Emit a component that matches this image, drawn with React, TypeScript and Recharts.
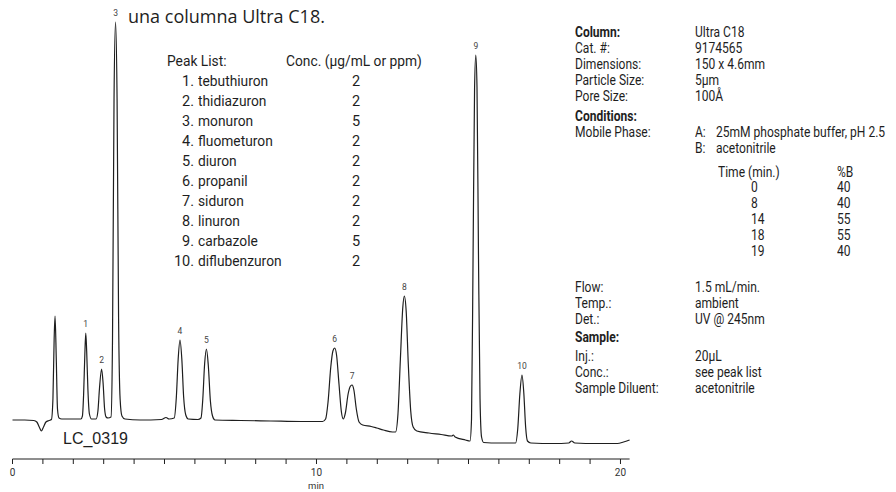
import { LineChart, Line, XAxis, YAxis, LabelList } from "recharts";

// retention time (min) and detector signal (arbitrary units)
const times = [
  0, 0.4, 0.7, 0.8, 0.88, 0.95, 1.02, 1.1, 1.2, 1.28, 1.33, 1.37, 1.4, 1.44, 1.48, 1.53, 1.62,
  2.0, 2.25, 2.3, 2.34, 2.38, 2.41, 2.44, 2.48, 2.53, 2.6, 2.75, 2.81, 2.86, 2.93, 2.98, 3.03,
  3.08, 3.14, 3.24, 3.29, 3.34, 3.39, 3.44, 3.49, 3.54, 3.6, 3.7, 4.2, 4.9, 5.05, 5.15, 5.32,
  5.39, 5.45, 5.51, 5.57, 5.63, 5.7, 5.78, 6.1, 6.2, 6.26, 6.32, 6.38, 6.44, 6.51, 6.58, 6.66,
  7.5, 8.5, 9.5, 10.2, 10.3, 10.38, 10.47, 10.54, 10.6, 10.66, 10.74, 10.82, 10.88, 10.95, 11.04,
  11.12, 11.17, 11.23, 11.31, 11.4, 11.52, 11.8, 11.98, 12.2, 12.5, 12.6, 12.68, 12.76, 12.84,
  12.89, 12.95, 13.02, 13.1, 13.18, 13.3, 13.7, 14.1, 14.45, 14.5, 14.56, 14.9, 15.05, 15.1,
  15.15, 15.2, 15.24, 15.28, 15.33, 15.38, 15.43, 15.5, 16.0, 16.55, 16.62, 16.69, 16.76, 16.82,
  16.88, 16.94, 17.05, 17.8, 18.3, 18.39, 18.5, 19.2, 19.9, 20.1, 20.3,
];
const signal = [
  39, 39, 38.5, 37, 32, 28, 32, 37, 38.5, 39.5, 60, 120, 143, 100, 50, 41, 40,
  40, 40, 43, 65, 105, 126, 108, 70, 45, 40, 40, 48, 70, 90, 76, 50,
  42, 41, 42, 120, 360, 437, 360, 140, 60, 43, 40, 39, 39.5, 41.5, 40, 41,
  62, 100, 119, 100, 62, 44, 40, 39.5, 41, 60, 95, 110, 94, 58, 43, 39,
  38.5, 38, 37.5, 37.5, 40, 57, 92, 108, 111, 104, 75, 47, 40, 46, 65,
  73, 74, 69, 50, 37, 34, 32.5, 31, 29, 27, 27, 45, 100, 152,
  163, 148, 95, 48, 32, 28, 26, 24.5, 23, 24, 22, 19, 18, 40,
  200, 370, 404, 372, 200, 60, 22, 16.5, 16, 16, 30, 65, 84, 66,
  32, 18, 16, 15.5, 16, 18, 16, 15.5, 15.5, 17, 19,
];

const peakNumbers = ["1", "2", "3", "4", "5", "6", "7", "8", "9", "10"];
const peakApexTimes = [2.41, 2.93, 3.39, 5.51, 6.38, 10.6, 11.17, 12.89, 15.24, 16.76];

const xTicks = [0, 1, 2, 3, 4, 5, 6, 7, 8, 9, 10, 11, 12, 13, 14, 15, 16, 17, 18, 19, 20];

const peakIds = ["1.", "2.", "3.", "4.", "5.", "6.", "7.", "8.", "9.", "10."];
const peakNames = [
  "tebuthiuron", "thidiazuron", "monuron", "fluometuron", "diuron",
  "propanil", "siduron", "linuron", "carbazole", "diflubenzuron",
];
const peakConc = ["2", "2", "5", "2", "2", "2", "2", "2", "5", "2"];

const columnLabels = ["Column:", "Cat. #:", "Dimensions:", "Particle Size:", "Pore Size:"];
const columnValues = ["Ultra C18", "9174565", "150 x 4.6mm", "5µm", "100Å"];
const gradientTimes = ["0", "8", "14", "18", "19"];
const gradientB = ["40", "40", "55", "55", "40"];
const runLabels = ["Flow:", "Temp.:", "Det.:"];
const runValues = ["1.5 mL/min.", "ambient", "UV @ 245nm"];
const sampleLabels = ["Inj.:", "Conc.:", "Sample Diluent:"];
const sampleValues = ["20µL", "see peak list", "acetonitrile"];

const rows = times.map((t, i) => {
  const k = peakApexTimes.indexOf(t);
  return { t, signal: signal[i], peak: k >= 0 ? peakNumbers[k] : undefined };
});

const SANS = "Roboto, sans-serif";
const INK = "#1e1e1e";

function PeakLabel(props: any) {
  const { x, y, value } = props;
  if (!value) return null;
  return (
    <text x={x} y={y - 9} textAnchor="middle" dominantBaseline="central" fontSize={8.5} fill="#444" fontFamily={SANS}>
      {value}
    </text>
  );
}

// one line of text in the side panel, squeezed to look like a condensed face
function Txt(props: { x: number; y: number; children: any; bold?: boolean; size?: number; font?: string; squeeze?: number }) {
  const k = props.squeeze ?? 0.86;
  return (
    <div
      style={{
        position: "absolute",
        left: props.x,
        top: props.y - 9,
        height: 18,
        lineHeight: "18px",
        whiteSpace: "nowrap",
        fontSize: props.size ?? 14,
        fontWeight: props.bold ? 700 : 400,
        fontFamily: props.font ?? SANS,
        color: INK,
        transform: `scaleX(${k})`,
        transformOrigin: "left center",
      }}
    >
      {props.children}
    </div>
  );
}

export default function App() {
  return (
    <div style={{ position: "absolute", left: 0, top: 0, width: 896, height: 492, background: "#fff", overflow: "hidden" }}>
      <LineChart width={896} height={492} data={rows} margin={{ top: 19, right: 266.4, bottom: 0, left: 12.5 }}>
        <YAxis hide type="number" domain={[0, 440]} />
        <XAxis
          dataKey="t"
          type="number"
          domain={[0, 20.3]}
          ticks={xTicks}
          interval={0}
          height={33}
          tickSize={5}
          tickMargin={5}
          stroke={INK}
          tick={{ fontSize: 10, fill: "#333", fontFamily: SANS }}
          tickFormatter={(v: number) => (v % 10 === 0 ? String(v) : "")}
          label={{ value: "min", position: "insideBottom", offset: 3, fontSize: 9.5, fill: "#333", fontFamily: SANS, dx: -5 }}
        />
        <Line type="monotone" dataKey="signal" stroke={INK} strokeWidth={1.2} dot={false} isAnimationActive={false}>
          <LabelList dataKey="peak" content={PeakLabel} />
        </Line>
      </LineChart>

      <Txt x={128} y={16} size={18} font="'Open Sans', sans-serif" squeeze={1}>una columna Ultra C18.</Txt>
      <Txt x={63} y={439} size={16} font="'Liberation Sans', Arial, sans-serif" squeeze={1}>LC_0319</Txt>

      <Txt x={167} y={62} size={14.5} squeeze={0.95}>Peak List:</Txt>
      <Txt x={286} y={62} size={14.5} squeeze={0.95}>Conc. (µg/mL or ppm)</Txt>
      {peakNames.map((name, i) => (
        <div key={name}>
          <div style={{ position: "absolute", left: 150, width: 44, top: 82 + i * 20 - 9, lineHeight: "18px", textAlign: "right", fontSize: 14.5, fontFamily: SANS, color: INK }}>
            {peakIds[i]}
          </div>
          <Txt x={198} y={82 + i * 20} size={14.5} squeeze={0.95}>{name}</Txt>
          <div style={{ position: "absolute", left: 336, width: 40, top: 82 + i * 20 - 9, lineHeight: "18px", textAlign: "center", fontSize: 14.5, fontFamily: SANS, color: INK }}>
            {peakConc[i]}
          </div>
        </div>
      ))}

      {columnLabels.map((l, i) => (
        <div key={l}>
          <Txt x={575} y={32 + i * 16} bold={i === 0}>{l}</Txt>
          <Txt x={695} y={32 + i * 16}>{columnValues[i]}</Txt>
        </div>
      ))}
      <Txt x={575} y={116} bold>Conditions:</Txt>
      <Txt x={575} y={132}>Mobile Phase:</Txt>
      <Txt x={695} y={132}>A:</Txt>
      <Txt x={716} y={132}>25mM phosphate buffer, pH 2.5</Txt>
      <Txt x={695} y={148}>B:</Txt>
      <Txt x={716} y={148}>acetonitrile</Txt>
      <Txt x={718} y={172}>Time (min.)</Txt>
      <Txt x={837} y={172}>%B</Txt>
      {gradientTimes.map((t, i) => (
        <div key={i}>
          <Txt x={751} y={187 + i * 16}>{t}</Txt>
          <Txt x={837} y={187 + i * 16}>{gradientB[i]}</Txt>
        </div>
      ))}
      {runLabels.map((l, i) => (
        <div key={l}>
          <Txt x={575} y={287 + i * 16}>{l}</Txt>
          <Txt x={695} y={287 + i * 16}>{runValues[i]}</Txt>
        </div>
      ))}
      <Txt x={575} y={337} bold>Sample:</Txt>
      {sampleLabels.map((l, i) => (
        <div key={l}>
          <Txt x={575} y={356 + i * 16}>{l}</Txt>
          <Txt x={695} y={356 + i * 16}>{sampleValues[i]}</Txt>
        </div>
      ))}
    </div>
  );
}
